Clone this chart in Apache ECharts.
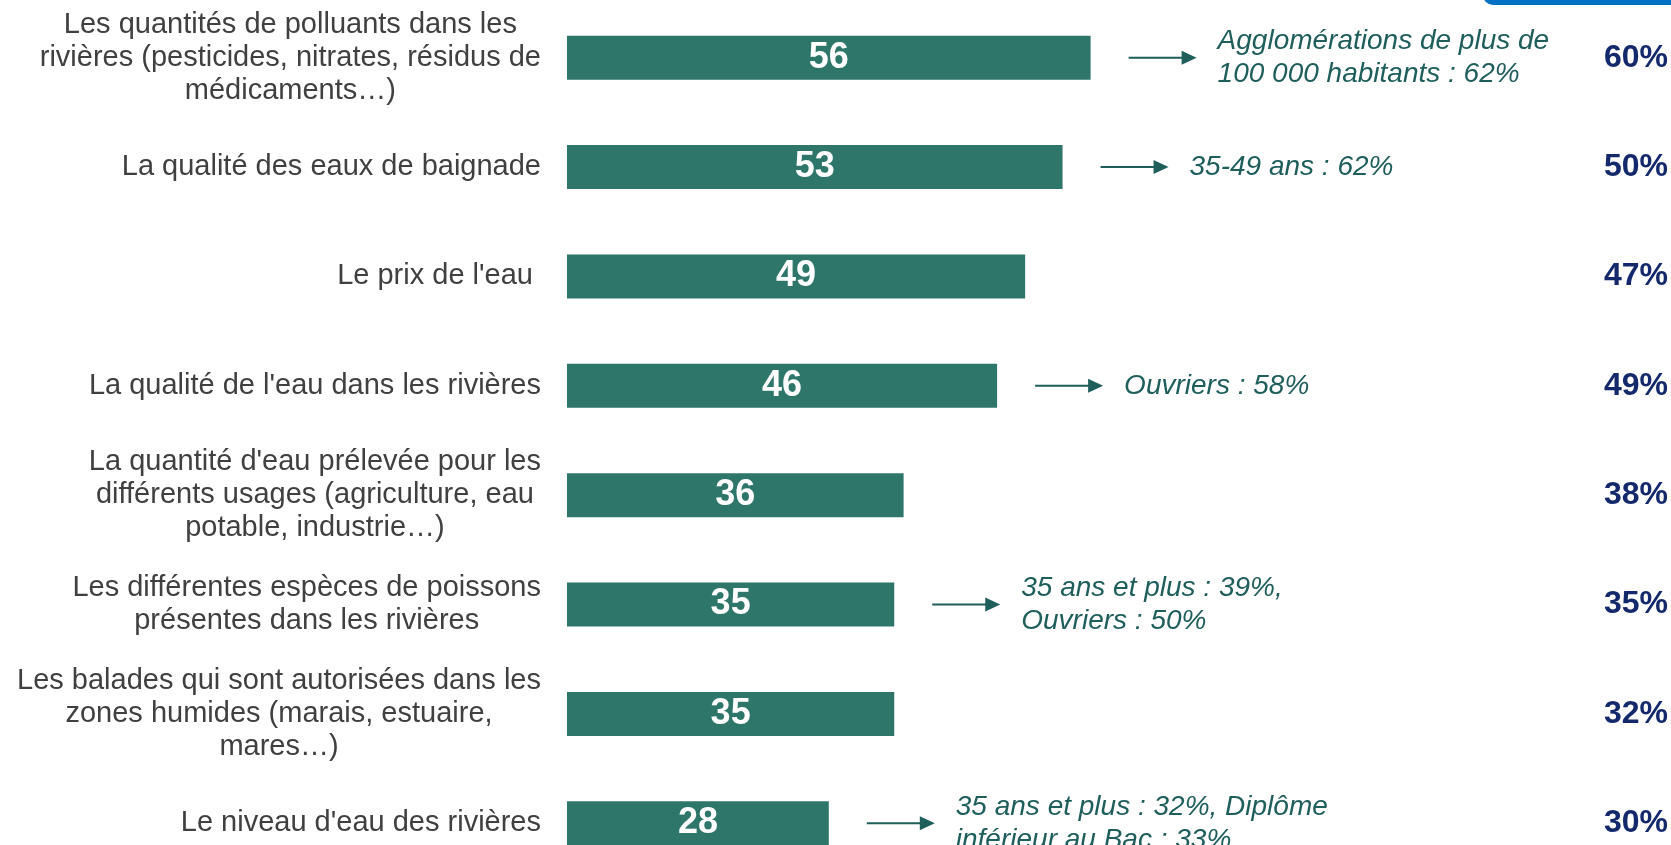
<!DOCTYPE html>
<html>
<head>
<meta charset="utf-8">
<title>Préoccupations eau</title>
<script src="https://cdn.jsdelivr.net/npm/echarts@6/dist/echarts.min.js"></script>
<style>
	html, body { margin: 0; padding: 0; background: #ffffff; overflow: hidden; }
	#main { width: 1671px; height: 880px; }
</style>
</head>
<body>
<div id="main"></div>
<script>
// libellés des items (ordre du haut vers le bas)
var categories = [
	"Les quantités de polluants dans les\nrivières (pesticides, nitrates, résidus de\nmédicaments…)",
	"La qualité des eaux de baignade",
	"Le prix de l'eau ",
	"La qualité de l'eau dans les rivières",
	"La quantité d'eau prélevée pour les\ndifférents usages (agriculture, eau\npotable, industrie…)",
	"Les différentes espèces de poissons\nprésentes dans les rivières",
	"Les balades qui sont autorisées dans les\nzones humides (marais, estuaire,\nmares…)",
	"Le niveau d'eau des rivières"
]
// résultats actuels (%)
var values = [56, 53, 49, 46, 36, 35, 35, 28]
// rappel colonne de droite (%)
var previous = [60, 50, 47, 49, 38, 35, 32, 30]
// sous-populations mises en avant ('' = pas de flèche)
var notes = [
	"Agglomérations de plus de\n100 000 habitants : 62%",
	"35-49 ans : 62%",
	"",
	"Ouvriers : 58%",
	"",
	"35 ans et plus : 39%,\nOuvriers : 50%",
	"",
	"35 ans et plus : 32%, Diplôme\ninférieur au Bac : 33%"
]

window.onload = function () {
	var font = 'Liberation Sans, Arial, sans-serif'
	var teal = '#2E7669'
	var noteColor = '#1E5E5B'

	var noteData = values.map(function (v, i) {
		return [v, i]
	})

	var options = {
		animation: false,
		textStyle: { fontFamily: font },
		// le div dépasse la fenêtre : la dernière barre est coupée comme sur l'original
		grid: {
			left: 567,
			right: 168,
			top: 3,
			bottom: 2
		},
		xAxis: {
			type: 'value',
			min: 0,
			max: 100,
			show: false,
			splitLine: { show: false }
		},
		yAxis: [
			{
				type: 'category',
				inverse: true,
				data: categories,
				axisLine: { show: false },
				axisTick: { show: false },
				axisLabel: {
					interval: 0,
					margin: 26,
					formatter: function (v) {
						// chaque ligne centrée dans le bloc
						return v.split('\n').map(function (l) {
							return '{c|' + l + '}'
						}).join('\n')
					},
					rich: {
						c: {
							align: 'center',
							fontSize: 29,
							lineHeight: 33,
							color: '#404040',
							fontFamily: font
						}
					}
				}
			},
			{
				type: 'category',
				inverse: true,
				position: 'right',
				data: categories,
				axisLine: { show: false },
				axisTick: { show: false },
				axisLabel: {
					interval: 0,
					margin: 166,
					align: 'right',
					fontSize: 32,
					fontWeight: 'bold',
					color: '#13296B',
					fontFamily: font,
					formatter: function (v, i) {
						return previous[i] + '%'
					}
				}
			}
		],
		series: [
			{
				type: 'bar',
				data: values,
				barWidth: 44,
				itemStyle: { color: teal },
				label: {
					show: true,
					position: 'inside',
					color: '#ffffff',
					fontSize: 36,
					fontWeight: 'bold',
					fontFamily: font
				}
			},
			{
				type: 'custom',
				data: noteData,
				silent: true,
				renderItem: function (params, api) {
					var txt = notes[params.dataIndex]
					if (!txt) return
					var p = api.coord([api.value(0), api.value(1)])
					var x0 = p[0] + 38
					var x1 = x0 + 68
					var y = p[1]
					return {
						type: 'group',
						children: [
							{
								type: 'line',
								shape: { x1: x0, y1: y, x2: x1 - 12, y2: y },
								style: { stroke: noteColor, lineWidth: 2 }
							},
							{
								type: 'polygon',
								shape: { points: [[x1 - 15, y - 7], [x1, y], [x1 - 15, y + 7]] },
								style: { fill: noteColor }
							},
							{
								type: 'text',
								x: x1 + 21,
								y: y,
								style: {
									text: txt,
									fill: noteColor,
									fontSize: 28,
									fontStyle: 'italic',
									fontFamily: font,
									lineHeight: 33,
									verticalAlign: 'middle',
									align: 'left'
								}
							}
						]
					}
				}
			}
		],
		graphic: [
			{
				type: 'rect',
				left: 1483,
				top: -20,
				shape: { width: 220, height: 25, r: 10 },
				style: { fill: '#0070C0' }
			}
		]
	}

	var myChart = echarts.init(document.getElementById('main'))
	myChart.setOption(options)
}
</script>
</body>
</html>
